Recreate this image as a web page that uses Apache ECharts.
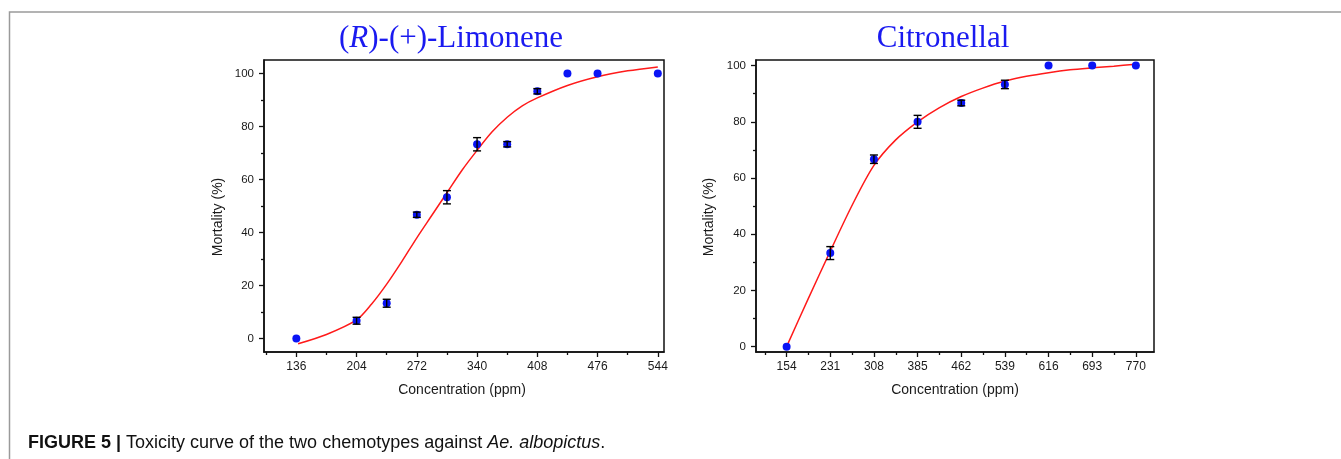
<!DOCTYPE html>
<html>
<head>
<meta charset="utf-8">
<script src="https://cdn.jsdelivr.net/npm/echarts@6/dist/echarts.min.js"></script>
<style>
html,body{margin:0;padding:0;background:#fff;}
#c{width:1341px;height:459px;}
</style>
</head>
<body>
<div id="c"></div>
<script>
// ---- (R)-(+)-Limonene ----
const limX   = [136, 204, 238, 272, 306, 340, 374, 408, 442, 476, 544];
const limY   = [0, 6.7, 13.3, 46.7, 53.3, 73.3, 73.3, 93.3, 100, 100, 100];
const limErr = [0, 1.3, 1.5, 1.0, 2.5, 2.5, 1.0, 1.0, 0, 0, 0];
const limFitX = [138, 170, 204, 221, 238, 255, 272, 289, 306, 323, 340, 357, 374, 391, 408, 442, 476, 510, 544];
const limFitY = [-2.0, 1.5, 7.0, 13.0, 20.5, 29.0, 38.0, 46.5, 55.0, 63.5, 71.0, 78.0, 83.5, 87.8, 90.8, 95.5, 98.8, 101.0, 102.5];
const limTicks = [136, 204, 272, 340, 408, 476, 544];
const limMinor = [102, 170, 238, 306, 374, 442, 510];

// ---- Citronellal ----
const citX   = [154, 231, 308, 385, 462, 539, 616, 693, 770];
const citY   = [0, 33.3, 66.7, 80, 86.7, 93.3, 100, 100, 100];
const citErr = [0, 2.3, 1.5, 2.3, 1.0, 1.5, 0, 0, 0];
const citFitX = [154, 192, 231, 270, 308, 346, 385, 423, 462, 500, 539, 577, 616, 654, 693, 731, 770];
const citFitY = [0, 17, 34, 50.5, 64.5, 73.5, 80, 85, 89, 92, 94.5, 96.2, 97.5, 98.5, 99.2, 99.8, 100.5];
const citTicks = [154, 231, 308, 385, 462, 539, 616, 693, 770];
const citMinor = [115.5, 192.5, 269.5, 346.5, 423.5, 500.5, 577.5, 654.5, 731.5];

const yTicks = [0, 20, 40, 60, 80, 100];
const yMinor = [10, 30, 50, 70, 90];

const AX = '#111';
const LBL = '#1a1a1a';
const BLUE = '#0a14f5';
const RED = '#ff1a1a';

function xMajor(grid, min, max, ticks) {
  return {
    type: 'value', gridIndex: grid, min: min, max: max, position: 'bottom',
    axisLine: {show: true, onZero: false, lineStyle: {color: AX, width: 1.5}},
    axisTick: {show: true, inside: false, length: 5, customValues: ticks, lineStyle: {color: AX, width: 1.3}},
    axisLabel: {show: true, customValues: ticks, margin: 9, fontFamily: 'Liberation Sans', fontSize: 12, color: LBL},
    splitLine: {show: false}
  };
}
function xMinor(grid, min, max, ticks) {
  return {
    type: 'value', gridIndex: grid, min: min, max: max, position: 'bottom',
    axisLine: {show: false, onZero: false},
    axisTick: {show: true, inside: false, length: 3, customValues: ticks, lineStyle: {color: AX, width: 1.3}},
    axisLabel: {show: false},
    splitLine: {show: false}
  };
}
function yMajor(grid, min, max) {
  return {
    type: 'value', gridIndex: grid, min: min, max: max, position: 'left',
    axisLine: {show: true, onZero: false, lineStyle: {color: AX, width: 1.5}},
    axisTick: {show: true, inside: false, length: 5, customValues: yTicks, lineStyle: {color: AX, width: 1.3}},
    axisLabel: {show: true, customValues: yTicks, margin: 10, fontFamily: 'Liberation Sans', fontSize: 11.5, color: LBL},
    splitLine: {show: false}
  };
}
function yMinorAx(grid, min, max) {
  return {
    type: 'value', gridIndex: grid, min: min, max: max, position: 'left',
    axisLine: {show: false, onZero: false},
    axisTick: {show: true, inside: false, length: 3, customValues: yMinor, lineStyle: {color: AX, width: 1.3}},
    axisLabel: {show: false},
    splitLine: {show: false}
  };
}

function errRender(params, api) {
  const x = api.value(0), y = api.value(1), e = api.value(2);
  const top = api.coord([x, y + e]);
  const bot = api.coord([x, y - e]);
  const w = 4;
  const st = {stroke: '#000', lineWidth: 1.4};
  return {
    type: 'group',
    children: [
      {type: 'line', shape: {x1: top[0], y1: top[1], x2: bot[0], y2: bot[1]}, style: st},
      {type: 'line', shape: {x1: top[0] - w, y1: top[1], x2: top[0] + w, y2: top[1]}, style: st},
      {type: 'line', shape: {x1: bot[0] - w, y1: bot[1], x2: bot[0] + w, y2: bot[1]}, style: st}
    ]
  };
}

function pairs(a, b) { return a.map((v, i) => [v, b[i]]); }
function triples(a, b, c) {
  const out = [];
  a.forEach((v, i) => { if (c[i] > 0) out.push([v, b[i], c[i]]); });
  return out;
}

const chart = echarts.init(document.getElementById('c'), null, {renderer: 'canvas'});
chart.setOption({
  animation: false,
  backgroundColor: '#fff',
  grid: [
    {left: 264, top: 60, width: 400, height: 292, show: true, borderColor: AX, borderWidth: 1.5, backgroundColor: 'transparent'},
    {left: 756, top: 60, width: 398, height: 292, show: true, borderColor: AX, borderWidth: 1.5, backgroundColor: 'transparent'}
  ],
  xAxis: [
    xMajor(0, 99.5, 551, limTicks),
    xMinor(0, 99.5, 551, limMinor),
    xMajor(1, 100, 802, citTicks),
    xMinor(1, 100, 802, citMinor)
  ],
  yAxis: [
    yMajor(0, -5.1, 105.1),
    yMinorAx(0, -5.1, 105.1),
    yMajor(1, -1.9, 102),
    yMinorAx(1, -1.9, 102)
  ],
  series: [
    {type: 'line', xAxisIndex: 0, yAxisIndex: 0, data: pairs(limFitX, limFitY), smooth: 0.3, symbol: 'none',
     lineStyle: {color: RED, width: 1.5}, z: 2},
    {type: 'scatter', xAxisIndex: 0, yAxisIndex: 0, data: pairs(limX, limY), symbol: 'circle', symbolSize: 8,
     itemStyle: {color: BLUE, opacity: 1}, z: 3},
    {type: 'custom', xAxisIndex: 0, yAxisIndex: 0, data: triples(limX, limY, limErr), renderItem: errRender, z: 4},

    {type: 'line', xAxisIndex: 2, yAxisIndex: 2, data: pairs(citFitX, citFitY), smooth: 0.3, symbol: 'none',
     lineStyle: {color: RED, width: 1.5}, z: 2},
    {type: 'scatter', xAxisIndex: 2, yAxisIndex: 2, data: pairs(citX, citY), symbol: 'circle', symbolSize: 8,
     itemStyle: {color: BLUE, opacity: 1}, z: 3},
    {type: 'custom', xAxisIndex: 2, yAxisIndex: 2, data: triples(citX, citY, citErr), renderItem: errRender, z: 4}
  ],
  graphic: [
    {type: 'polyline', silent: true, shape: {points: [[9.5, 459], [9.5, 12], [1341, 12]]},
     style: {stroke: '#9a9a9a', lineWidth: 1.5, fill: null}},
    {type: 'text', x: 451, y: 39, silent: true,
     style: {text: '({i|R}{n|)-(+)-Limonene}', textAlign: 'center', textVerticalAlign: 'middle',
       fontFamily: 'Liberation Serif', fontSize: 31, fill: '#1a1af0',
       rich: {i: {fontStyle: 'italic', fontFamily: 'Liberation Serif', fontSize: 31, fill: '#1a1af0', color: '#1a1af0'},
              n: {fontFamily: 'Liberation Serif', fontSize: 31, fill: '#1a1af0', color: '#1a1af0'}}}},
    {type: 'text', x: 943, y: 39, silent: true,
     style: {text: 'Citronellal', textAlign: 'center', textVerticalAlign: 'middle',
       fontFamily: 'Liberation Serif', fontSize: 31, fill: '#1a1af0'}},
    {type: 'text', x: 462, y: 390, silent: true,
     style: {text: 'Concentration (ppm)', textAlign: 'center', textVerticalAlign: 'middle',
       fontFamily: 'Liberation Sans', fontSize: 14, fill: LBL}},
    {type: 'text', x: 955, y: 390, silent: true,
     style: {text: 'Concentration (ppm)', textAlign: 'center', textVerticalAlign: 'middle',
       fontFamily: 'Liberation Sans', fontSize: 14, fill: LBL}},
    {type: 'text', x: 218, y: 217, rotation: Math.PI / 2, silent: true,
     style: {text: 'Mortality (%)', textAlign: 'center', textVerticalAlign: 'middle',
       fontFamily: 'Liberation Sans', fontSize: 14, fill: LBL}},
    {type: 'text', x: 709, y: 217, rotation: Math.PI / 2, silent: true,
     style: {text: 'Mortality (%)', textAlign: 'center', textVerticalAlign: 'middle',
       fontFamily: 'Liberation Sans', fontSize: 14, fill: LBL}},
    {type: 'text', x: 28, y: 443, silent: true,
     style: {text: '{b|FIGURE 5 |} Toxicity curve of the two chemotypes against {i|Ae. albopictus}.',
       textAlign: 'left', textVerticalAlign: 'middle',
       fontFamily: 'Liberation Sans', fontSize: 18, fill: '#111',
       rich: {b: {fontWeight: 'bold', fontFamily: 'Liberation Sans', fontSize: 18, fill: '#111', color: '#111'},
              i: {fontStyle: 'italic', fontFamily: 'Liberation Sans', fontSize: 18, fill: '#111', color: '#111'}}}}
  ]
});
</script>
</body>
</html>
